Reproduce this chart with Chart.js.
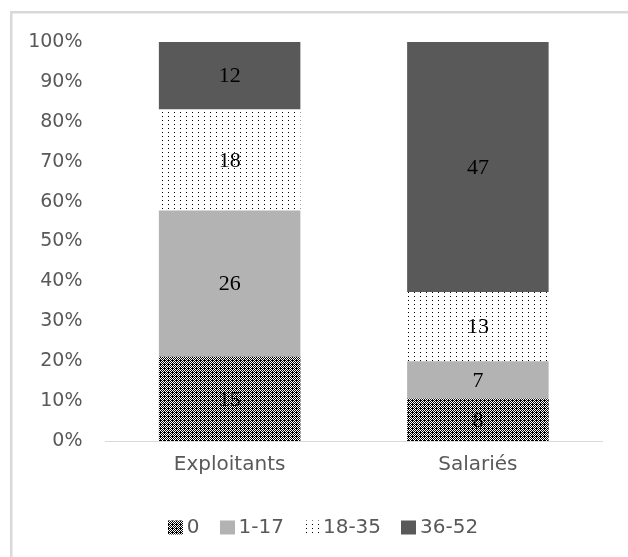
<!DOCTYPE html>
<html>
<head>
<meta charset="utf-8">
<script src="https://cdn.jsdelivr.net/npm/chart.js@4"></script>
<style>
  html, body { margin: 0; padding: 0; background: #ffffff; }
  #wrap { width: 628px; height: 557px; position: relative; }
</style>
</head>
<body>
<div id="wrap"><canvas id="chart" width="628" height="557"></canvas></div>
<script>
// Categories and the number of people in each duration band
const categories = ['Exploitants', 'Salariés'];
const seriesNames = ['0', '1-17', '18-35', '36-52'];
const band0 = [15, 8];
const band1to17 = [26, 7];
const band18to35 = [18, 13];
const band36to52 = [12, 47];
const yTickValues = [0, 10, 20, 30, 40, 50, 60, 70, 80, 90, 100];

const counts = [band0, band1to17, band18to35, band36to52];
const totals = categories.map((_, i) => counts.reduce((s, arr) => s + arr[i], 0));
const toShare = arr => arr.map((v, i) => v / totals[i] * 100);

// Fill patterns
function makePattern(w, h, painter) {
  const c = document.createElement('canvas');
  c.width = w; c.height = h;
  const g = c.getContext('2d');
  painter(g, w, h);
  return g.createPattern(c, 'repeat');
}
const ctx = document.getElementById('chart').getContext('2d');

const densePattern = makePattern(4, 4, (g, w, h) => {
  g.fillStyle = '#ffffff'; g.fillRect(0, 0, w, h);
  g.fillStyle = '#000000';
  for (let y = 0; y < h; y++) for (let x = 0; x < w; x++) {
    const white = ((x + y) % 2 === 0) && !(x === 0 && y === 0);
    if (!white) g.fillRect(x, y, 1, 1);
  }
});
const sparsePattern = makePattern(6, 4, (g, w, h) => {
  g.fillStyle = '#ffffff'; g.fillRect(0, 0, w, h);
  g.fillStyle = '#000000';
  g.fillRect(0, 0, 1, 1);
});
const fills = [densePattern, '#b3b3b3', sparsePattern, '#595959'];

const datasets = seriesNames.map((name, k) => ({
  label: name,
  data: toShare(counts[k]),
  counts: counts[k],
  backgroundColor: fills[k],
  borderWidth: 0,
  barPercentage: 0.57,
  categoryPercentage: 1.0
}));

// Light frame around the chart
const framePlugin = {
  id: 'frame',
  beforeDraw(chart) {
    const c = chart.ctx;
    c.save();
    c.fillStyle = '#ffffff';
    c.fillRect(0, 0, chart.width, chart.height);
    c.strokeStyle = '#d9d9d9';
    c.lineWidth = 2.5;
    c.strokeRect(11.25, 12.25, chart.width + 20, chart.height + 20);
    c.restore();
  }
};

// Compact legend row under the axis: swatch, then its label
const legendRow = {
  id: 'legendRow',
  afterDraw(chart, args, opts) {
    const c = chart.ctx;
    const font = '20px "DejaVu Sans"';
    const box = 15, boxH = 14, gapText = 4, gapItem = 20;
    c.save();
    c.font = font;
    const items = chart.data.datasets.map(ds => ({
      text: ds.label, fill: ds.backgroundColor, w: c.measureText(ds.label).width
    }));
    const total = items.reduce((s, it) => s + box + gapText + it.w, 0) + gapItem * (items.length - 1);
    let x = opts.centerX - total / 2;
    const baseline = opts.baseline;
    items.forEach(it => {
      c.fillStyle = it.fill;
      c.fillRect(Math.round(x), baseline - 12.5, box, boxH);
      x += box + gapText;
      c.fillStyle = '#595959';
      c.textAlign = 'left';
      c.textBaseline = 'alphabetic';
      c.fillText(it.text, x, baseline);
      x += it.w + gapItem;
    });
    c.restore();
  }
};

// Count labels centred in each segment
const countLabels = {
  id: 'countLabels',
  afterDatasetsDraw(chart) {
    const c = chart.ctx;
    c.save();
    c.font = '22px "Liberation Serif"';
    c.fillStyle = '#000000';
    c.textAlign = 'center';
    c.textBaseline = 'middle';
    chart.data.datasets.forEach((ds, di) => {
      const meta = chart.getDatasetMeta(di);
      meta.data.forEach((bar, i) => {
        const y = (bar.y + bar.base) / 2;
        c.fillText(String(ds.counts[i]), bar.x, y + 1);
      });
    });
    c.restore();
  }
};

new Chart(ctx, {
  type: 'bar',
  data: { labels: categories, datasets },
  plugins: [framePlugin, countLabels, legendRow],
  options: {
    responsive: false,
    animation: false,
    layout: { padding: { left: 0, right: 26, top: 42, bottom: 54 } },
    scales: {
      x: {
        stacked: true,
        grid: { display: false, drawTicks: false },
        border: { display: true, color: '#d9d9d9', width: 1 },
        ticks: { color: '#595959', font: { family: 'DejaVu Sans', size: 20 }, padding: 12 },
        afterFit(s) { s.height = 62; }
      },
      y: {
        stacked: true,
        min: 0,
        max: 100,
        grid: { display: false, drawTicks: false },
        border: { display: false },
        afterBuildTicks(s) { s.ticks = yTickValues.map(v => ({ value: v })); },
        ticks: {
          color: '#595959',
          font: { family: 'DejaVu Sans', size: 19 },
          padding: 23,
          callback: v => v + '%'
        },
        afterFit(s) { s.width = 105.5; }
      }
    },
    plugins: {
      legend: { display: false },
      legendRow: { centerX: 323, baseline: 533 },
      tooltip: { enabled: false }
    }
  }
});
</script>
</body>
</html>
